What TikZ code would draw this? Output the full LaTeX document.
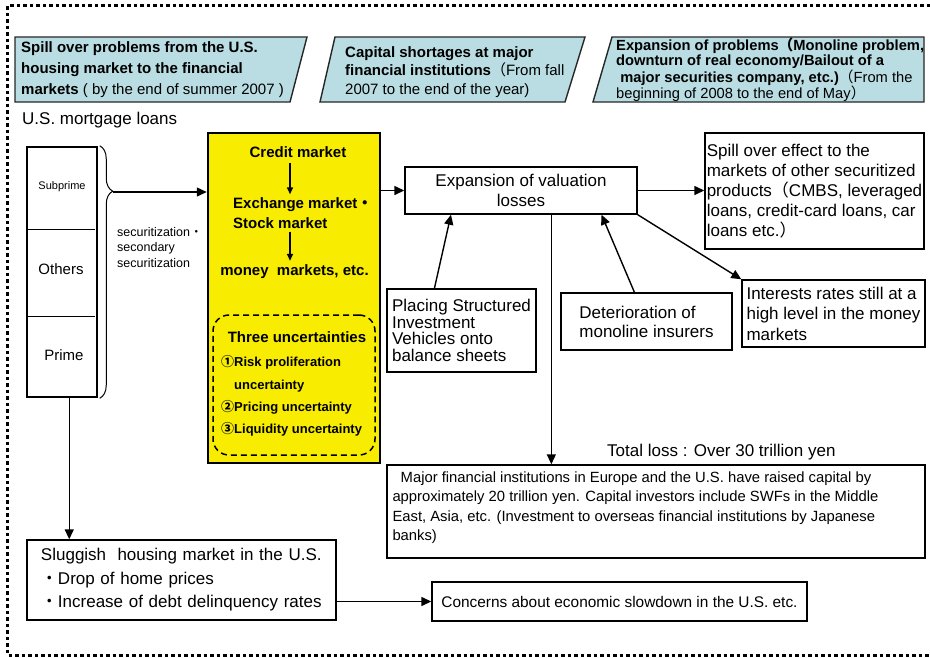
\documentclass[tikz,border=0pt]{standalone}
\usepackage{fontspec}
\setmainfont{Liberation Sans}
\newfontfamily\jpfont{Noto Sans CJK JP}
\usetikzlibrary{arrows.meta,calc,decorations.pathreplacing}
\definecolor{bannerblue}{RGB}{185,221,226}
\definecolor{mktyellow}{RGB}{248,236,0}
\newcommand{\fs}[2]{\fontsize{#1}{#2}\selectfont}
\begin{document}
\begin{tikzpicture}[x=1pt,y=-1pt]
\tikzstyle{every node}+=[inner sep=0pt]
\tikzstyle{box}=[draw=black, line width=1.4pt, fill=white]
\tikzstyle{thickbox}=[draw=black, line width=2.5pt]
\tikzstyle{banner}=[draw=black!85, line width=1.4pt, fill=bannerblue]
\tikzstyle{arr}=[line width=1.4pt, -{Triangle[length=10pt,width=9pt]}]
\tikzstyle{smallarr}=[line width=1.5pt, -{Triangle[length=7pt,width=6pt]}]
\tikzstyle{txt}=[font=\fs{17}{20}]
\tikzstyle{btxt}=[font=\fs{15}{20}\bfseries]
\useasboundingbox (0,0) rectangle (930,657);
\draw [line width=3pt, dash pattern=on 3.5pt off 3pt] (930,5.5) -- (7.5,5.5) -- (7.5,655) -- (930,655);
\draw [banner] (15,37) -- (307,37) -- (290,102) -- (15,102) -- cycle;
\node [anchor=west, align=left, font=\fs{15}{21}] (ban1) at (21,69.5) {\textbf{Spill over problems from the U.S.}\\\textbf{housing market to the financial}\\\textbf{markets} ( by the end of summer 2007 )};
\draw [banner] (335,37) -- (585,37) -- (565,102) -- (320,102) -- cycle;
\node [anchor=west, align=left, font=\fs{15}{18.5}] (ban2) at (345,72) {\textbf{Capital shortages at major}\\\textbf{financial institutions}{\jpfont （}From fall\\2007 to the end of the year)};
\draw [banner] (612,37) -- (924,37) -- (924,102) -- (593,102) -- cycle;
\node [anchor=west, align=left, font=\fs{14.7}{14.7}] (ban3) at (616,70) {\textbf{Expansion of problems{\jpfont （}Monoline problem,}\\\textbf{downturn of real economy/Bailout of a}\\\textbf{\ major securities company, etc.)}{\jpfont （}From the\\beginning of 2008 to the end of May{\jpfont ）}};
\node [anchor=west, txt] (usml) at (22,120) {U.S. mortgage loans};
\node [thickbox, minimum width=70, minimum height=250] (loans) at (62,272) {};
\draw [line width=1pt] (27,229) -- (95,229);
\draw [line width=1pt] (27,316) -- (95,316);
\node [font=\fs{11}{13}] (sub) at (62,187) {Subprime};
\node [font=\fs{15}{18}] (oth) at (61,269) {Others};
\node [font=\fs{15}{18}] (pri) at (64,355) {Prime};
\draw [line width=1pt, decorate, decoration={brace, amplitude=13pt, aspect=0.18}] ([xshift=1.5pt]loans.north east) -- ([xshift=1.5pt]loans.south east);
\coordinate (tip) at (112.5,192);
\node [anchor=west, align=left, font=\fs{12.5}{15.5}] (sec) at (117,247.5) {securitization{\jpfont ・}\\secondary\\securitization};
\node [thickbox, fill=mktyellow, minimum width=172, minimum height=330] (mkt) at (294,298) {};
\draw [arr] (tip) -- (tip -| mkt.west);
\coordinate (axis) at (290,0);
\node [btxt, text height=11pt, text depth=3pt, inner sep=3pt] (credit) at (298,153) {Credit market};
\node [btxt, align=left, anchor=west, inner sep=3pt] (exch) at (230,213) {Exchange market{\jpfont ・}\\Stock market};
\node [btxt, text height=11pt, text depth=3pt, inner sep=3pt] (money) at (294.5,271) {money\ \ markets, etc.};
\draw [smallarr] (credit.south -| axis) -- (exch.north -| axis);
\draw [smallarr] (exch.south -| axis) -- (money.north -| axis);
\node [draw, line width=1.5pt, dash pattern=on 6pt off 4pt, rounded corners=16pt, minimum width=162, minimum height=140] (unc) at (294,385) {};
\node [font=\fs{15}{18}\bfseries] (three) at (297,337) {Three uncertainties};
\node [anchor=west, align=left, font=\fs{13}{22.3}\bfseries] (items) at (221,396) {{\jpfont ①}Risk proliferation\\\hspace*{13pt}uncertainty\\{\jpfont ②}Pricing uncertainty\\{\jpfont ③}Liquidity uncertainty};
\node [box, minimum width=232, minimum height=47, align=center, txt] (val) at (521,190.5) {Expansion of valuation\\losses};
\draw [arr] (val.west -| mkt.east) -- (val.west);
\node [box, minimum width=219, minimum height=116, align=left, txt] (spill) at (814.5,191) {Spill over effect to the\\markets of other securitized\\products{\jpfont （}CMBS, leveraged\\loans, credit-card loans, car\\loans etc.{\jpfont ）}};
\draw [arr] (val.east) -- (val.east -| spill.west);
\node [box, minimum width=183, minimum height=67, align=left, font=\fs{17}{20.5}] (intr) at (833.5,313.5) {Interests rates still at a\\high level in the money\\markets};
\draw [arr] (val.south east) -- (intr.north west);
\node [box, minimum width=149, minimum height=83, align=left, font=\fs{17}{16.7}] (plc) at (461.5,330.5) {Placing Structured\\Investment\\Vehicles onto\\balance sheets};
\draw [arr] ($(plc.north west)!0.32!(plc.north east)$) -- ($(val.south west)!0.2!(val.south east)$);
\node [box, minimum width=171, minimum height=57, align=left, font=\fs{17}{19}] (det) at (646.5,321.5) {Deterioration of\\monoline insurers};
\draw [arr] ($(det.north west)!0.43!(det.north east)$) -- ($(val.south west)!0.845!(val.south east)$);
\node [box, minimum width=538, minimum height=93] (maj) at (656,511.5) {};
\node [anchor=north west, align=left, font=\fs{14.8}{19.4}] (majtxt) at ([xshift=6pt,yshift=-7pt]maj.north west) {\ \ Major financial institutions in Europe and the U.S. have raised capital by\\approximately 20 trillion yen. Capital investors include SWFs in the Middle\\East, Asia, etc. (Investment to overseas financial institutions by Japanese\\banks)};
\coordinate (vdrop) at ($(val.south west)!0.63!(val.south east)$);
\draw [arr] (vdrop) -- (vdrop |- maj.north);
\node [anchor=west, txt] (tot) at (607,452) {Total loss : Over 30 trillion yen};
\node [box, minimum width=309, minimum height=80, text width=281, align=left, font=\fs{17}{23.5}] (slug) at (181.5,580) {Sluggish\ \ housing market in the U.S.\\{\jpfont ・}Drop of home prices\\{\jpfont ・}Increase of debt delinquency rates};
\coordinate (ldrop) at ($(loans.south west)!0.6!(loans.south east)$);
\draw [arr] (ldrop) -- (ldrop |- slug.north);
\node [box, minimum width=375, minimum height=39, font=\fs{15.4}{18}] (conc) at (619.5,601.5) {Concerns about economic slowdown in the U.S. etc.};
\draw [arr] (slug.east |- conc.west) -- (conc.west);
\end{tikzpicture}
\end{document}
